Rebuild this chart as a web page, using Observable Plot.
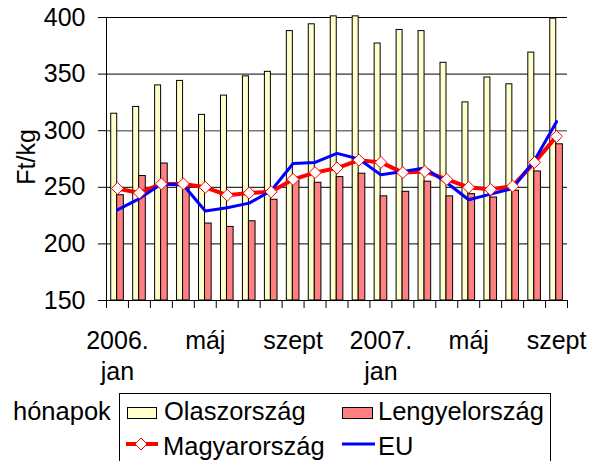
<!DOCTYPE html>
<html>
<head>
<meta charset="utf-8">
<script src="https://cdn.jsdelivr.net/npm/d3@7"></script>
<script src="https://cdn.jsdelivr.net/npm/@observablehq/plot@0.6"></script>
<style>
  html, body { margin: 0; padding: 0; background: white; }
  #wrap { position: relative; width: 592px; height: 461px; overflow: hidden; font-family: "Liberation Sans", Arial, sans-serif; }
  #chart { position: absolute; left: 0; top: 0; width: 592px; height: 390px; }
  .lg { position: absolute; font-size: 25.5px; line-height: 25px; white-space: nowrap; color: black; }
  #box { position: absolute; left: 119px; top: 393px; width: 432px; height: 80px; border: 1px solid black; box-sizing: border-box; }
</style>
</head>
<body>
<div id="wrap">
  <div id="chart"></div>
  <div id="box"></div>
  <svg id="lgsvg" width="592" height="461" style="position:absolute;left:0;top:0;pointer-events:none"></svg>
</div>
<script>
// Data (Ft/kg), 2006 jan .. 2007 szept
const months = d3.range(21);
const olaszorszag   = [315, 321, 340, 344, 314, 331, 348, 352, 388, 394, 401, 401, 377, 389, 388, 360, 325, 347, 341, 369, 399];
const lengyelorszag = [243, 260, 271, 249, 218, 215, 220, 239, 256, 254, 259, 262, 242, 246, 255, 242, 244, 241, 247, 264, 288];
const magyarorszag  = [249, 245, 253, 253, 250, 243, 245, 246, 257, 263, 267, 274, 272, 263, 264, 257, 250, 248, 251, 272, 295];
const eu            = [230, 240, 253, 252, 229, 232, 236, 247, 271, 272, 280, 275, 261, 264, 267, 254, 239, 244, 249, 274, 308];
const xTickIdx    = [0, 4, 8, 12, 16, 20];
const xTickLabels = ["2006.\njan", "máj", "szept", "2007.\njan", "máj", "szept"];
const yTicks = [150, 200, 250, 300, 350, 400];
const seriesNames = ["Olaszország", "Lengyelország", "Magyarország", "EU"];
const unitLabel = "Ft/kg";
const xTitle = "hónapok";

const data = months.map(i => ({i, ola: olaszorszag[i], pol: lengyelorszag[i], hu: magyarorszag[i], eu: eu[i]}));

const W = 592, ML = 106, MR = 25;
const bw = (W - ML - MR) / months.length;

const chart = Plot.plot({
  width: W,
  height: 390,
  marginLeft: ML,
  marginRight: MR,
  marginTop: 17,
  marginBottom: 90,
  style: {fontFamily: '"Liberation Sans", Arial, sans-serif', fontSize: "25px", color: "black", background: "white"},
  x: {type: "band", domain: months, padding: 0, round: false, axis: null, label: null},
  y: {domain: [150, 400], axis: null, label: null},
  marks: [
    Plot.gridY(yTicks.filter(d => d !== 300), {stroke: "black", strokeOpacity: 1}),
    Plot.gridY([300], {stroke: "#777", strokeOpacity: 1, strokeWidth: 1.5}),
    Plot.barY(data, {x: "i", y1: 150, y2: "ola", fill: "#FFFFCC", stroke: "black", strokeWidth: 1,
      insetLeft: bw * 0.215, insetRight: bw - bw * 0.488}),
    Plot.barY(data, {x: "i", y1: 150, y2: "pol", fill: "#FF8080", stroke: "black", strokeWidth: 1,
      insetLeft: bw * 0.488, insetRight: bw - bw * 0.79}),
    Plot.line(data, {x: "i", y: "hu", stroke: "#FF0000", strokeWidth: 4}),
    Plot.line(data, {x: "i", y: "eu", stroke: "#0000FF", strokeWidth: 3}),
    Plot.dot(data, {x: "i", y: "hu", symbol: "diamond2", r: 5.4, fill: "white", stroke: "#FF0000", strokeWidth: 1}),
    // axes
    Plot.ruleY([150], {stroke: "black"}),
    Plot.ruleX([0], {x: d => d, y1: 150, y2: 400, dx: -bw / 2, stroke: "black"}),
    Plot.axisY(yTicks, {tickSize: 8, tickPadding: 13, fontSize: 25, stroke: "black", label: null}),
    Plot.axisX(months, {tickSize: 8, dx: -bw / 2, tickFormat: () => "", stroke: "black", label: null}),
    Plot.axisX([20], {tickSize: 8, dx: bw / 2, tickFormat: () => "", stroke: "black", label: null}),
    Plot.axisX(xTickIdx, {tickSize: 0, tickPadding: 26, fontSize: 25, lineHeight: 1.24, label: null,
      tickFormat: d => xTickLabels[xTickIdx.indexOf(d)]}),
    Plot.text([unitLabel], {frameAnchor: "left", rotate: -90, dx: -80, dy: -2, fontSize: 25, textAnchor: "middle", lineAnchor: "middle", fill: "black"})
  ]
});
document.getElementById("chart").appendChild(chart);

// Legend (HTML text + small svg swatches)
const wrap = document.getElementById("wrap");
function addText(txt, left, baseline) {
  const s = document.createElement("div");
  s.className = "lg";
  s.textContent = txt;
  s.style.left = left + "px";
  s.style.top = (baseline - 20.9) + "px";
  wrap.appendChild(s);
}
addText(xTitle, 13, 420);
addText(seriesNames[0], 164, 420);
addText(seriesNames[1], 378, 420);
addText(seriesNames[2], 163, 455);
addText(seriesNames[3], 378, 455);

const sv = d3.select("#lgsvg");
sv.append("rect").attr("x", 127.5).attr("y", 407.5).attr("width", 29).attr("height", 11)
  .attr("fill", "#FFFFCC").attr("stroke", "black");
sv.append("rect").attr("x", 342.5).attr("y", 407.5).attr("width", 30).attr("height", 11)
  .attr("fill", "#FF8080").attr("stroke", "black");
sv.append("line").attr("x1", 126).attr("x2", 158).attr("y1", 444).attr("y2", 444)
  .attr("stroke", "#FF0000").attr("stroke-width", 4);
sv.append("path").attr("d", "M141,438L147,444L141,450L135,444Z").attr("fill", "white").attr("stroke", "#FF0000");
sv.append("line").attr("x1", 342).attr("x2", 375).attr("y1", 444).attr("y2", 444)
  .attr("stroke", "#0000FF").attr("stroke-width", 3);
</script>
</body>
</html>
